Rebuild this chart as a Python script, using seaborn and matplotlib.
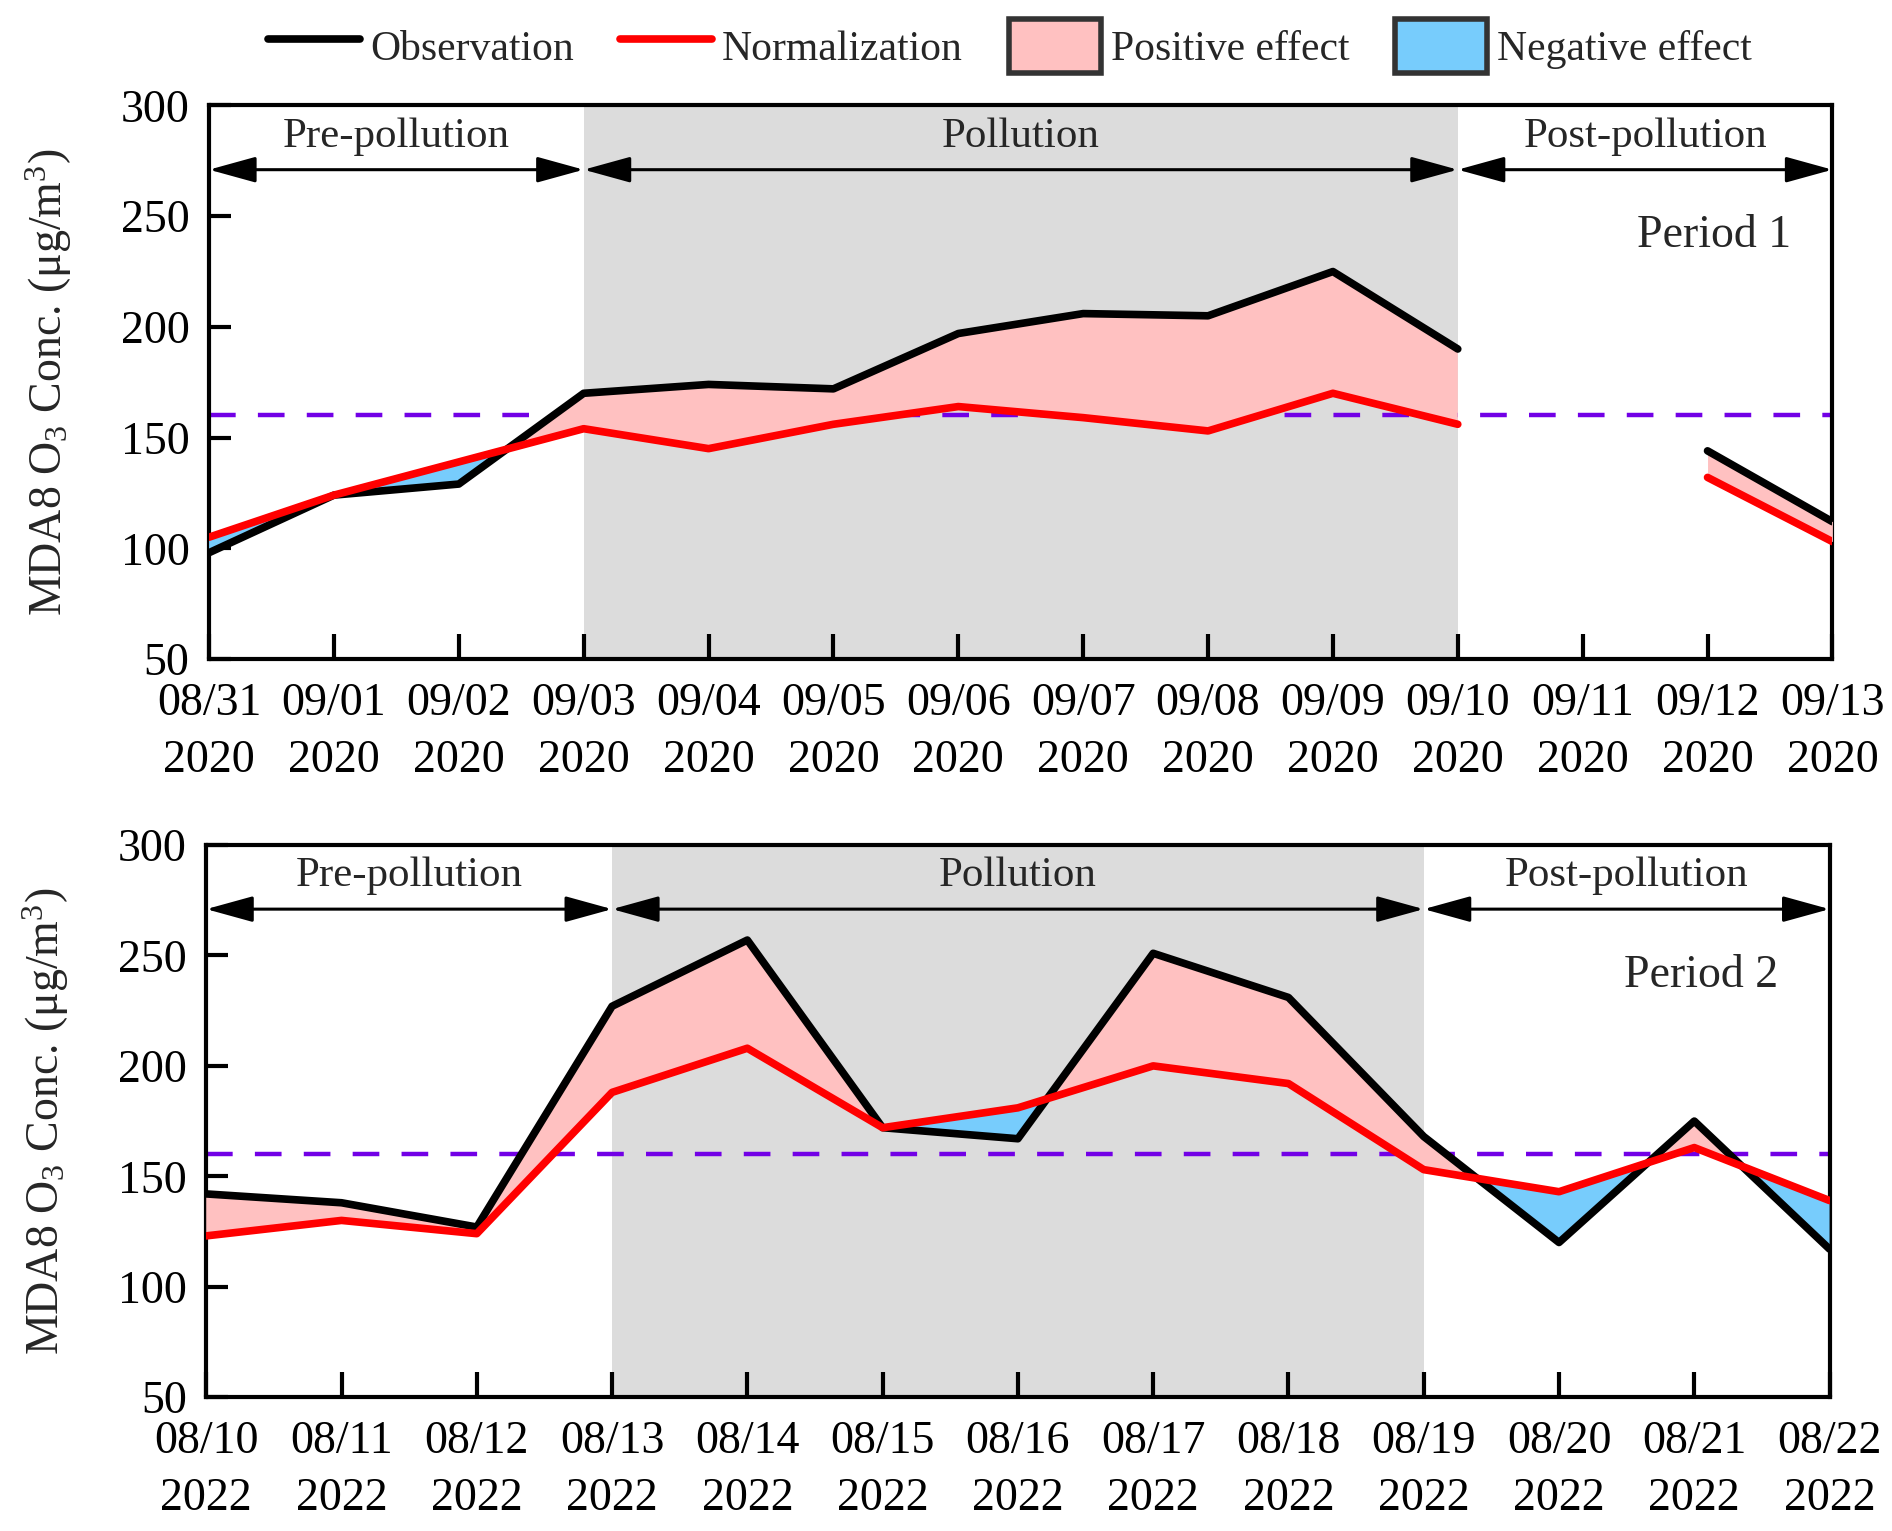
import numpy as np
import pandas as pd
import seaborn as sns
import matplotlib.pyplot as plt
from matplotlib.lines import Line2D
from matplotlib.patches import Patch

# period 1 (2020)
dates1 = ["08/31", "09/01", "09/02", "09/03", "09/04", "09/05", "09/06",
          "09/07", "09/08", "09/09", "09/10", "09/11", "09/12", "09/13"]
obs1 = [98, 124, 129, 170, 174, 172, 197, 206, 205, 225, 190, np.nan, 144, 112]
norm1 = [105, 124, 139, 154, 145, 156, 164, 159, 153, 170, 156, np.nan, 132, 103]
phase1 = [0, 3, 10, 13]

# period 2 (2022)
dates2 = ["08/10", "08/11", "08/12", "08/13", "08/14", "08/15", "08/16",
          "08/17", "08/18", "08/19", "08/20", "08/21", "08/22"]
obs2 = [142, 138, 127, 227, 257, 172, 167, 251, 231, 168, 120, 175, 117]
norm2 = [123, 130, 124, 188, 208, 172, 181, 200, 192, 153, 143, 163, 139]
phase2 = [0, 3, 9, 12]

threshold = 160
phase_names = ["Pre-pollution", "Pollution", "Post-pollution"]

sns.set_style("white")
plt.rcParams['font.family'] = ['Liberation Serif', 'DejaVu Serif']
plt.rcParams['mathtext.fontset'] = 'custom'
plt.rcParams['mathtext.rm'] = 'Liberation Serif'
plt.rcParams['mathtext.it'] = 'Liberation Serif:italic'

pink = '#ffc1c1'
blue = '#77ccfc'
purple = '#7200e6'
gray = '#dcdcdc'

fig = plt.figure(figsize=(18.92, 15.31), dpi=100)
ax1 = fig.add_axes([0.1105, 0.5696, 0.858, 0.3615])
ax2 = fig.add_axes([0.109, 0.0875, 0.858, 0.3605])


def draw(ax, dates, year, obs, norm, phase, label, label_x):
    df = pd.DataFrame({"x": np.arange(len(dates)), "obs": obs, "norm": norm})
    ax.axvspan(phase[1], phase[2], color=gray, zorder=0, lw=0)
    ax.axhline(threshold, color=purple, ls=(0, (6, 5)), lw=3.2, zorder=2)

    # split into contiguous segments (gap where data missing)
    seg = df["obs"].isna().cumsum()
    for _, part in df.dropna().groupby(seg[df["obs"].notna()]):
        x = part["x"].values
        o = part["obs"].values
        n = part["norm"].values
        ax.fill_between(x, o, n, where=o >= n, interpolate=True,
                        color=pink, lw=0, zorder=3)
        ax.fill_between(x, o, n, where=o < n, interpolate=True,
                        color=blue, lw=0, zorder=3)
        sns.lineplot(data=part, x="x", y="obs", color="black", lw=5.5,
                     ax=ax, zorder=4, legend=False)
        sns.lineplot(data=part, x="x", y="norm", color="red", lw=5.5,
                     ax=ax, zorder=5, legend=False)

    for i in range(3):
        ax.annotate("", xy=(phase[i + 1], 271), xytext=(phase[i], 271),
                    arrowprops=dict(arrowstyle="<|-|>,head_length=1.45,head_width=0.4",
                                    color="black", lw=2.2, mutation_scale=20,
                                    shrinkA=0, shrinkB=0),
                    annotation_clip=False, zorder=6)
        ax.text((phase[i] + phase[i + 1]) / 2, 286, phase_names[i],
                ha="center", va="center", fontsize=31)
    ax.text(label_x, 241, label, ha="center", va="center", fontsize=33)

    ax.set_xlim(0, len(dates) - 1)
    ax.set_ylim(50, 300)
    ax.set_yticks([50, 100, 150, 200, 250, 300])
    ax.set_xticks(np.arange(len(dates)))
    ax.set_xticklabels([f"{d}\n{year}" for d in dates], linespacing=1.45)
    ax.tick_params(bottom=True, left=True, direction="in", width=3,
                   labelsize=33, colors="black")
    ax.tick_params(axis="x", length=18, pad=17)
    ax.tick_params(axis="y", length=16, pad=14)
    for s in ax.spines.values():
        s.set_linewidth(3)
        s.set_color("black")
    ax.set_xlabel("")
    ax.set_ylabel("MDA8 O$_3$ Conc. (μg/m$^3$)", fontsize=33)
    ax.yaxis.set_label_coords(-0.083, 0.5)


draw(ax1, dates1, 2020, obs1, norm1, phase1, "Period 1", 12.05)
draw(ax2, dates2, 2022, obs2, norm2, phase2, "Period 2", 11.05)

handles = [Line2D([], [], color="black", lw=5.5),
           Line2D([], [], color="red", lw=5.5),
           Patch(facecolor=pink, edgecolor="#333333", lw=4),
           Patch(facecolor=blue, edgecolor="#333333", lw=4)]
labels = ["Observation", "Normalization", "Positive effect", "Negative effect"]
fig.legend(handles, labels, loc="center", bbox_to_anchor=(0.534, 0.970),
           ncol=4, frameon=False, fontsize=30, handlelength=2.2,
           handleheight=1.6, handletextpad=0.25, columnspacing=1.1)

fig.savefig("out.png", dpi=100)
